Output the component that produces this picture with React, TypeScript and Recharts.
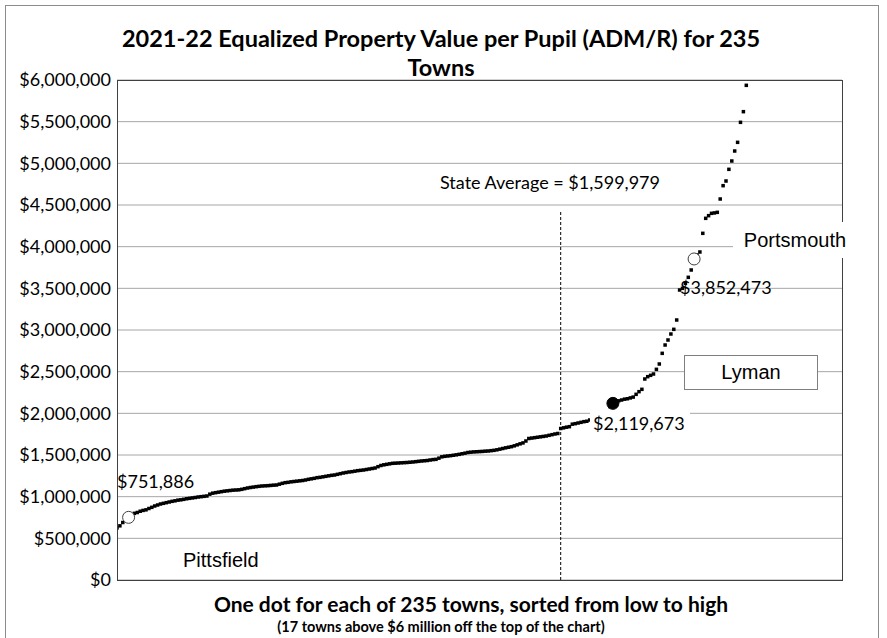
import { ComposedChart, Scatter, XAxis, YAxis, CartesianGrid, ReferenceLine, ReferenceDot } from 'recharts';

// equalized value per pupil, in $ thousands, sorted low to high (only the 218 towns under $6M are visible)
const valuesK = [
  625, 650, 690, 730, 751.886, 780, 800, 810, 825, 835, 842, 858, 872, 888, 900, 912, 920, 928, 936, 944,
  950, 958, 962, 968, 975, 980, 985, 990, 996, 1000, 1004, 1008, 1030, 1042, 1048, 1054, 1060, 1066, 1070, 1074,
  1078, 1080, 1082, 1088, 1096, 1104, 1110, 1115, 1120, 1124, 1128, 1130, 1132, 1135, 1138, 1140, 1150, 1160, 1168, 1172,
  1178, 1182, 1186, 1190, 1194, 1200, 1208, 1214, 1220, 1228, 1232, 1238, 1244, 1250, 1256, 1260, 1268, 1276, 1284, 1290,
  1296, 1300, 1306, 1312, 1316, 1320, 1326, 1332, 1338, 1344, 1360, 1374, 1382, 1388, 1394, 1400, 1402, 1404, 1406, 1408,
  1410, 1413, 1416, 1420, 1424, 1428, 1431, 1434, 1440, 1445, 1448, 1462, 1478, 1484, 1488, 1492, 1497, 1502, 1508, 1515,
  1522, 1530, 1534, 1537, 1539, 1541, 1543, 1546, 1548, 1552, 1556, 1562, 1570, 1578, 1586, 1593, 1600, 1610, 1622, 1634,
  1645, 1668, 1698, 1703, 1708, 1713, 1718, 1723, 1728, 1736, 1744, 1752, 1758, 1818, 1826, 1834, 1840, 1870, 1876, 1884,
  1892, 1900, 1905, 1920, 1940, 1960, 1975, 1990, 2000, 2010, 2080, 2119.673, 2140, 2150, 2160, 2170, 2175, 2185, 2195, 2228,
  2260, 2288, 2412, 2440, 2456, 2472, 2528, 2592, 2720, 2820, 2880, 2952, 3008, 3120, 3480, 3500, 3560, 3632, 3720, 3852.473,
  3900, 3936, 4160, 4340, 4372, 4400, 4405, 4412, 4572, 4732, 4788, 4928, 5028, 5148, 5252, 5492, 5620, 5936,
];

const TOWN_COUNT = 235;
const OFF_CHART = 17;
const yTicks = [0, 500000, 1000000, 1500000, 2000000, 2500000, 3000000, 3500000, 4000000, 4500000, 5000000, 5500000, 6000000];
const STATE_AVERAGE = 1599979;
const stateAvgIdx = 153;
const stateAvgLineTop = 4440000;

const highlights = [
  { name: 'Pittsfield', idx: 4, filled: false },
  { name: 'Lyman', idx: 171, filled: true },
  { name: 'Portsmouth', idx: 199, filled: false },
];

const data = valuesK.map((v, i) => ({ idx: i, value: Math.round(v * 1000) }));

const money = (v: number) => '$' + v.toLocaleString('en-US');

const calibri = 'Lato, "Open Sans", sans-serif';
const arial = '"Liberation Sans", Arial, sans-serif';

const SquareDot = (props: any) => {
  const { cx, cy } = props;
  if (cx == null || cy == null) return null;
  return <rect x={cx - 1.75} y={cy - 1.75} width={3.5} height={3.5} fill="#000" />;
};

function Txt({ left, cy, size, font, bold, children, center }: any) {
  const lh = size * 1.3;
  return (
    <div
      style={{
        position: 'absolute',
        left: center ? left - 400 : left,
        width: center ? 800 : undefined,
        textAlign: center ? 'center' : 'left',
        top: cy - lh / 2,
        lineHeight: lh + 'px',
        fontSize: size,
        fontFamily: font,
        fontWeight: bold ? 700 : 400,
        whiteSpace: 'nowrap',
        color: '#000',
      }}
    >
      {children}
    </div>
  );
}

export default function App() {
  const pick = (name: string) => {
    const h = highlights.find((d) => d.name === name)!;
    return data[h.idx].value;
  };
  return (
    <div style={{ position: 'relative', width: 887, height: 638, background: '#fff', overflow: 'hidden' }}>
      <style>{'body{margin:0}'}</style>
      <ComposedChart width={887} height={638} data={data} margin={{ top: 80, right: 45, bottom: 58, left: 0 }}>
        <CartesianGrid vertical={false} stroke="#a6a6a6" />
        <XAxis type="number" dataKey="idx" domain={[0, 250]} hide allowDataOverflow />
        <YAxis
          type="number"
          domain={[0, 6000000]}
          ticks={yTicks}
          interval={0}
          allowDataOverflow
          width={117}
          axisLine={false}
          tickLine={false}
          tickSize={0}
          tickMargin={6}
          tickFormatter={money}
          tick={{ fill: '#000', fontSize: 18, fontFamily: calibri }}
        />
        <ReferenceLine
          segment={[
            { x: stateAvgIdx, y: 0 },
            { x: stateAvgIdx, y: stateAvgLineTop },
          ]}
          stroke="#000"
          strokeDasharray="3 2"
        />
        <Scatter dataKey="value" shape={<SquareDot />} isAnimationActive={false} />
        {highlights.map((h) => (
          <ReferenceDot
            key={h.name}
            x={h.idx}
            y={data[h.idx].value}
            r={6}
            fill={h.filled ? '#000' : '#fff'}
            stroke={h.filled ? '#000' : '#404040'}
            strokeWidth={1}
          />
        ))}
      </ComposedChart>

      {/* outer frame and plot frame */}
      <div style={{ position: 'absolute', left: 5, top: 5, width: 874, height: 650, border: '1px solid #8c8c8c', boxSizing: 'border-box' }} />
      <div style={{ position: 'absolute', left: 117, top: 80, width: 726, height: 501, border: '1px solid #404040', boxSizing: 'border-box' }} />

      <Txt left={441} cy={38} size={23.5} font={calibri} bold center>
        2021-22 Equalized Property Value per Pupil (ADM/R) for {TOWN_COUNT}
      </Txt>
      <Txt left={441} cy={67} size={23.5} font={calibri} bold center>
        Towns
      </Txt>

      <Txt left={440} cy={183} size={18} font={calibri}>
        State Average = {money(STATE_AVERAGE)}
      </Txt>

      <Txt left={117} cy={482} size={18} font={calibri}>
        {money(pick('Pittsfield'))}
      </Txt>
      <Txt left={183} cy={560} size={20} font={arial}>
        Pittsfield
      </Txt>

      <div style={{ position: 'absolute', left: 590, top: 410, width: 100, height: 26, background: '#fff' }} />
      <Txt left={593} cy={424} size={18} font={calibri}>
        {money(pick('Lyman'))}
      </Txt>

      <div
        style={{
          position: 'absolute',
          left: 684,
          top: 355,
          width: 134,
          height: 35,
          border: '1px solid #7f7f7f',
          background: '#fff',
          boxSizing: 'border-box',
        }}
      />
      <Txt left={751} cy={372} size={20} font={arial} center>
        Lyman
      </Txt>

      <Txt left={680} cy={288} size={18} font={calibri}>
        {money(pick('Portsmouth'))}
      </Txt>
      <div style={{ position: 'absolute', left: 733, top: 222, width: 124, height: 36, background: '#fff' }} />
      <Txt left={795} cy={240} size={20} font={arial} center>
        Portsmouth
      </Txt>

      <Txt left={471} cy={604} size={21} font={calibri} bold center>
        One dot for each of {TOWN_COUNT} towns, sorted from low to high
      </Txt>
      <Txt left={441} cy={627} size={14.5} font={calibri} bold center>
        ({OFF_CHART} towns above $6 million off the top of the chart)
      </Txt>
    </div>
  );
}
